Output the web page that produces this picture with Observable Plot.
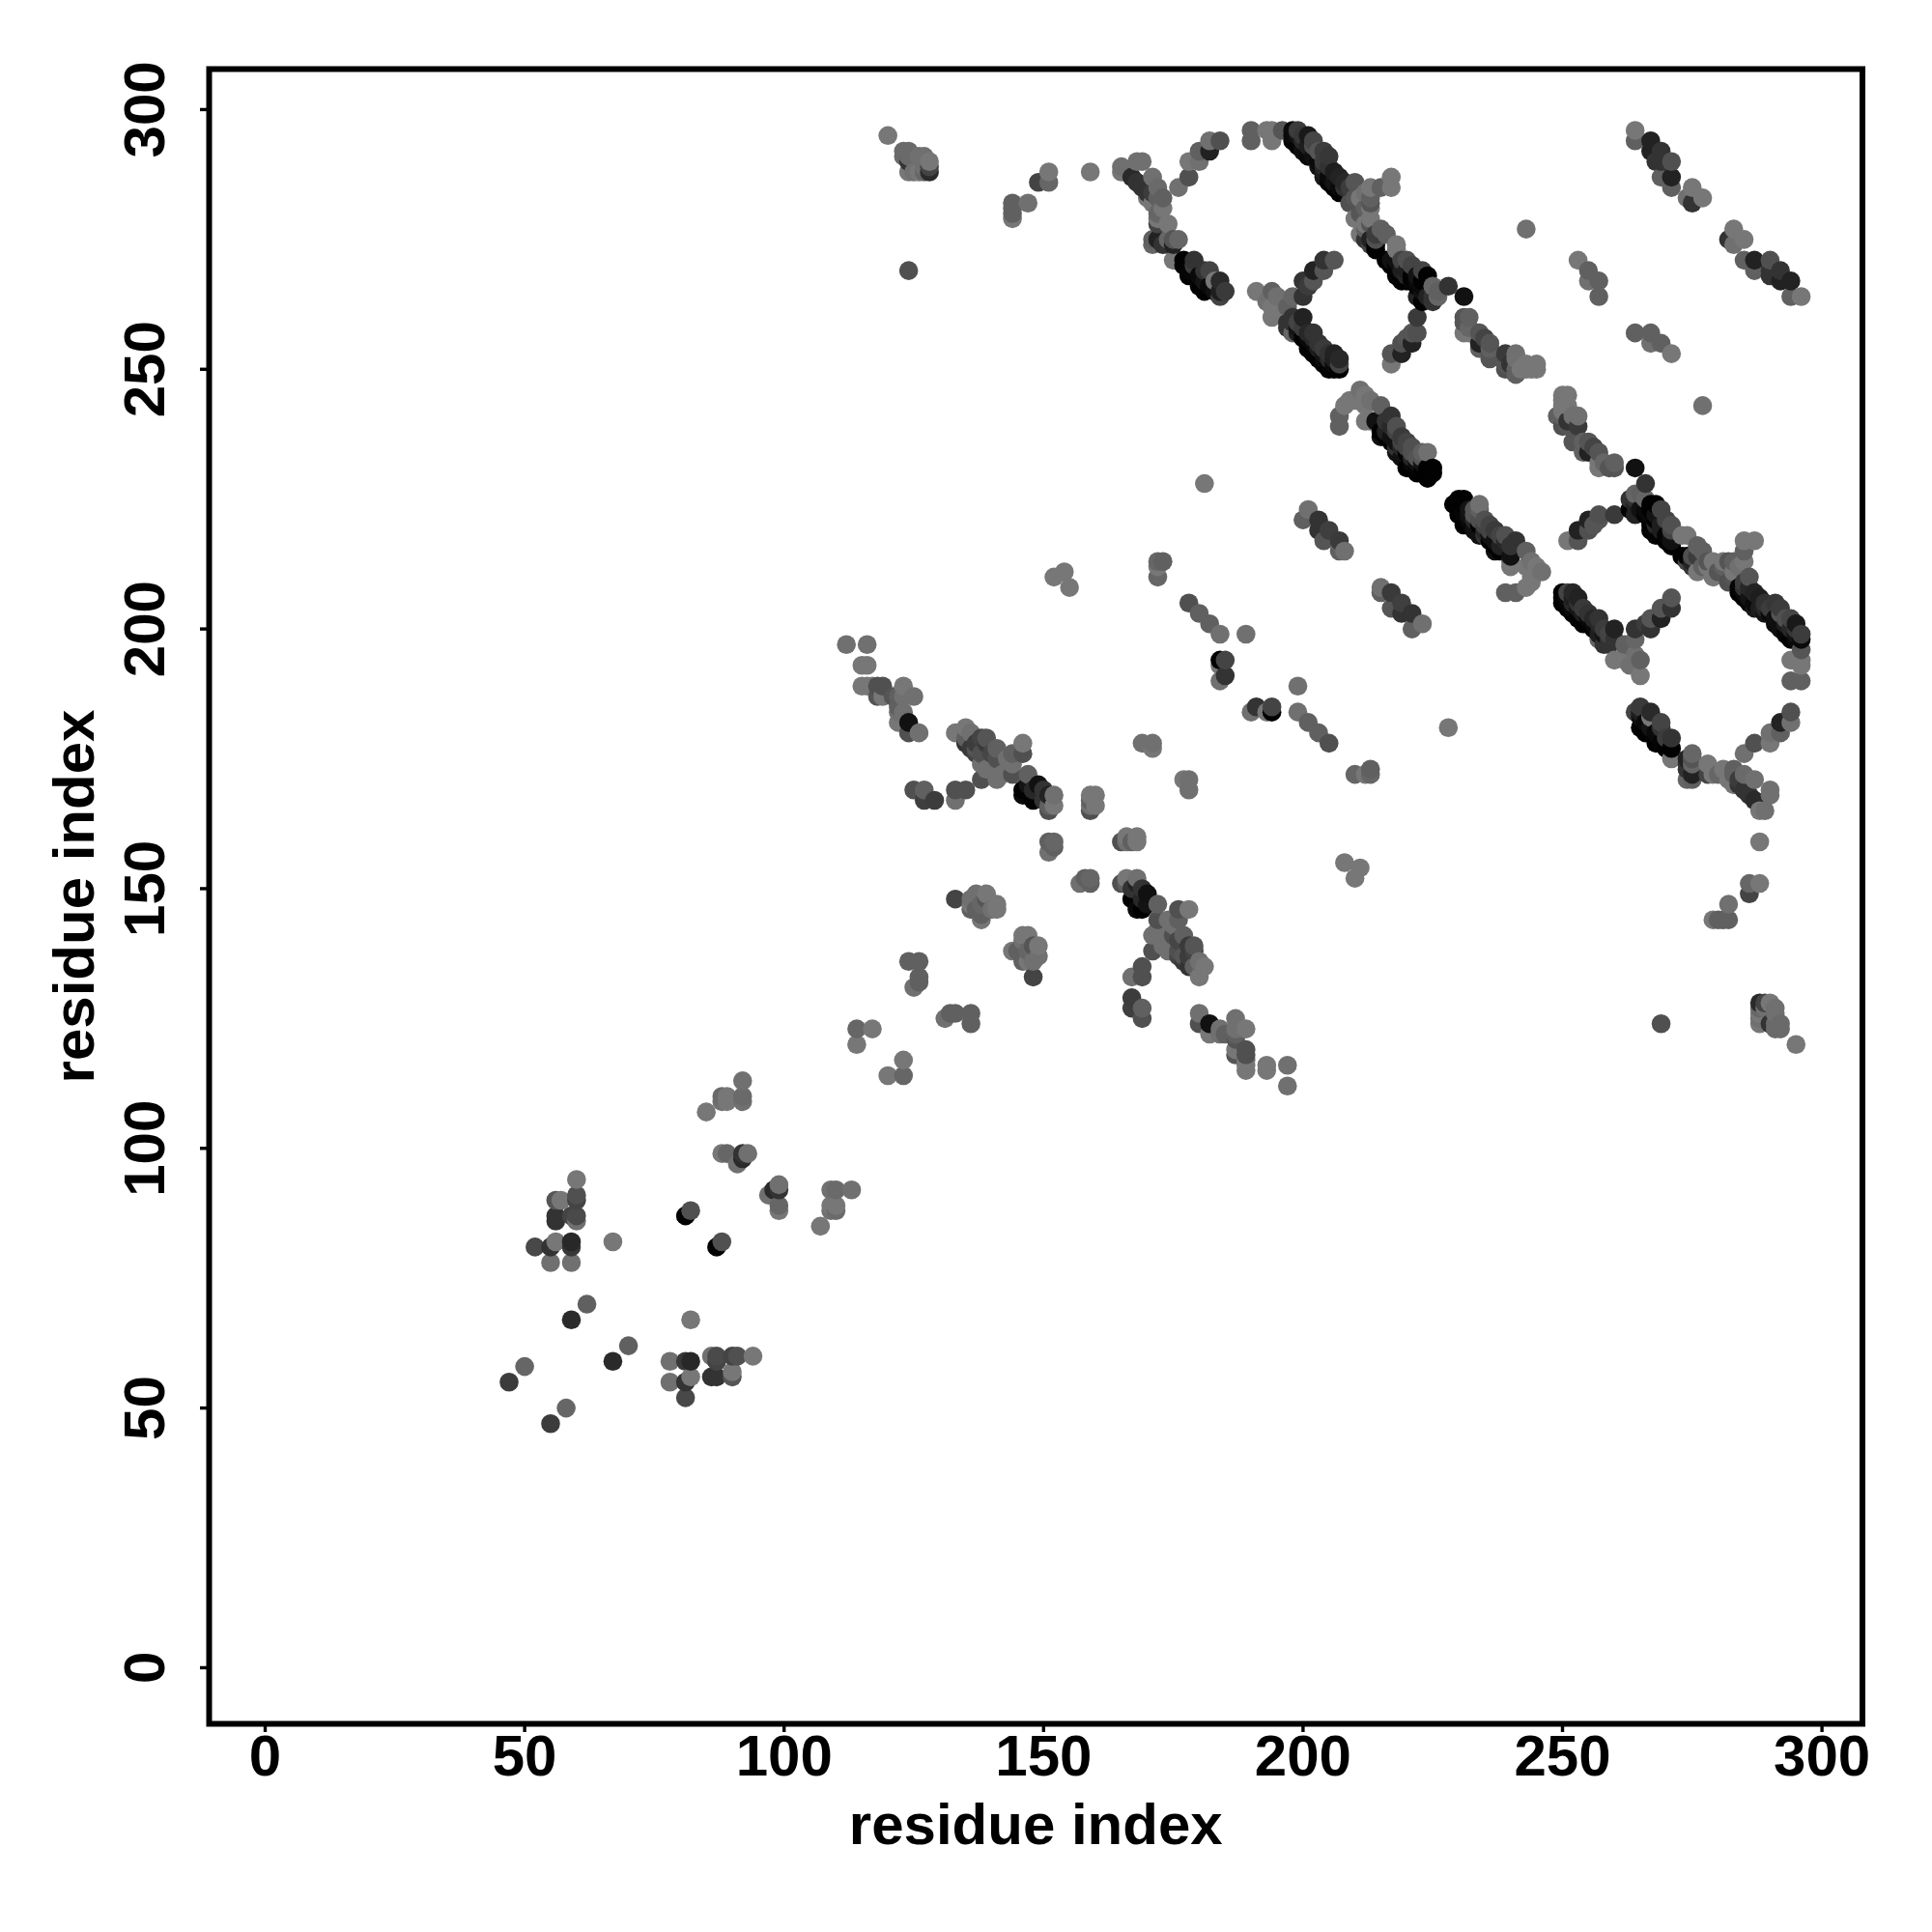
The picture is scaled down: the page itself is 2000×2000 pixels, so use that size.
<!DOCTYPE html>
<html>
<head>
<meta charset="utf-8">
<script src="https://cdn.jsdelivr.net/npm/d3@7"></script>
<script src="https://cdn.jsdelivr.net/npm/@observablehq/plot@0.6"></script>
<style>html,body{margin:0;padding:0;background:#fff}svg{display:block}</style>
</head>
<body>
<div id="chart"></div>
<script>
// Each contact: [residue i, residue j, grey level]. The map is symmetric, so one triangle is listed.
const tickValues = [0, 50, 100, 150, 200, 250, 300];
const axisTitle = "residue index";
const lowContacts = [[47,55,60],[50,58,102],[52,81,72],[55,81,51],[55,78,112],[56,82,119],[59,82,40],[59,81,56],[59,78,112],[56,87,51],[56,86,51],[56,90,85],[57,90,119],[59,87,68],[60,94,119],[60,91,80],[60,90,68],[60,87,74],[60,86,112],[59,67,42],[62,70,96],[67,82,119],[81,87,2],[82,88,80],[92,113,112],[88,110,106],[89,110,119],[88,109,112],[89,109,119],[92,110,106],[92,109,112],[85,107,119],[88,99,119],[89,99,102],[92,99,51],[93,99,112],[92,98,42],[91,97,112]];
const clusterB = [[112,197,112],[116,197,112],[115,193,119],[116,193,119],[115,189,119],[116,189,119],[117,189,119],[118,189,80],[119,189,80],[118,187,85],[119,187,119],[123,189,119],[121,187,85],[122,187,96],[123,187,112],[125,187,112],[123,184,112],[122,185,96],[122,184,112],[122,182,119],[124,182,17],[124,180,80],[126,180,112],[114,120,119],[114,123,102],[117,123,119],[124,136,96],[126,136,96],[126,133,96],[126,132,96],[125,131,112]];
const clusterC = [[133,180,119],[135,181,119],[136,180,112],[138,179,68],[135,179,96],[135,178,51],[136,177,58],[137,178,60],[137,177,85],[137,176,68],[138,176,80],[139,179,85],[139,178,58],[141,177,96],[141,175,80],[146,178,119],[146,176,80],[138,174,112],[144,174,112],[141,171,112],[138,171,80],[135,169,80],[133,169,80],[133,167,112],[129,167,60],[127,167,63],[127,169,96],[125,169,80],[139,173,112],[142,172,112],[144,172,80],[147,172,96],[146,169,2],[146,168,10],[147,170,20],[149,170,17],[148,167,2],[148,169,40],[150,169,51],[151,168,34],[150,167,51],[152,168,112],[152,166,119],[151,165,80],[151,166,96],[144,176,96],[143,175,112],[140,176,70],[141,174,112]];
const clusterMid = [[159,168,119],[160,168,119],[159,166,112],[160,166,119],[159,165,80],[159,167,96],[151,159,96],[152,159,102],[151,157,112],[152,158,96],[133,148,68],[136,148,112],[137,149,112],[139,149,119],[136,146,96],[137,146,96],[138,144,119],[138,145,96],[139,148,85],[140,146,112],[141,147,119],[141,146,119],[136,147,119],[138,147,102],[169,178,112],[171,178,112],[171,177,119],[178,205,80],[180,203,96],[182,201,96],[184,199,112],[189,199,112],[184,194,2],[185,194,68],[184,190,112],[185,191,51],[184,193,119],[181,228,119],[155,208,119],[154,211,119],[152,210,119],[172,213,102],[173,213,96],[172,212,119],[172,210,102]];
const clusterTop = [[120,295,119],[123,292,106],[124,292,106],[123,291,106],[124,291,106],[124,290,51],[124,288,119],[125,288,112],[126,288,119],[126,291,112],[127,291,112],[127,289,112],[127,288,102],[128,290,119],[128,289,68],[128,288,42],[124,269,80],[144,282,96],[144,281,96],[144,280,96],[144,279,119],[147,282,112],[149,286,68],[151,286,102],[151,288,119],[159,288,119],[176,285,112],[178,287,80],[178,290,119],[180,290,112],[180,292,96],[182,292,34],[182,294,112],[184,294,80],[190,296,96],[190,294,96],[193,296,119],[194,296,119],[194,294,119],[196,296,85]];
const bandEntry = [[165,289,112],[165,288,119],[168,290,112],[169,290,112],[167,287,42],[168,286,51],[169,285,51],[170,284,51],[171,287,112],[172,285,106],[173,283,96],[170,283,119],[171,282,119],[171,284,60],[172,283,96],[173,281,119],[172,280,102],[172,279,119],[172,278,68],[174,278,119],[171,275,96],[171,274,102],[172,275,34],[173,274,51],[174,275,102],[174,274,51],[175,275,85],[176,275,102],[175,274,34]];
const bandSecond = [[175,271,119],[177,271,2],[177,270,2],[178,269,5],[179,271,51],[179,270,60],[178,268,2],[180,268,10],[181,269,51],[182,269,68],[180,266,2],[181,267,20],[183,267,119],[182,266,10],[184,267,42],[183,265,17],[185,265,58],[184,264,68],[184,265,30],[181,265,2]];
const bandA = [[198,296,10],[199,296,60],[198,295,10],[199,295,20],[200,295,55],[198,294,2],[199,293,5],[200,294,40],[201,295,25],[200,292,15],[201,293,30],[202,293,80],[202,294,70],[203,292,85],[204,292,60],[201,291,10],[202,291,15],[203,290,10],[204,290,60],[205,291,55],[203,289,20],[204,289,40],[205,289,50],[204,288,30],[205,287,10],[204,287,25],[206,288,30],[205,286,5],[206,286,20],[206,285,2],[207,285,10],[207,287,35],[207,284,2],[208,284,5],[208,285,50],[208,286,40],[209,285,60],[209,282,80]];
const junction = [[210,286,85],[217,287,119],[217,285,119],[215,285,96],[213,285,119],[213,283,96],[211,283,119],[210,283,85],[213,281,119],[210,279,119],[212,278,119],[213,278,85],[212,275,51],[211,276,119],[213,275,34],[215,277,96],[216,276,85],[214,274,2],[218,274,119],[214,276,60],[211,280,85],[212,281,96],[212,284,112]];
const bandB = [[216,271,2],[217,271,17],[217,270,2],[218,271,17],[218,270,5],[218,268,5],[219,271,68],[219,269,30],[220,269,30],[221,270,68],[219,267,2],[220,268,40],[221,268,2],[222,268,20],[221,267,5],[222,267,10],[223,267,2],[224,268,2],[222,266,5],[223,266,10],[224,264,34],[225,264,50],[225,266,102],[226,265,96],[228,266,51],[231,264,17],[222,264,34],[225,263,51],[226,264,102],[223,263,2],[224,267,2],[223,265,17],[223,269,68],[220,271,80],[220,267,2],[218,269,2],[218,273,119],[214,273,2],[216,276,96],[214,275,80],[213,274,68],[213,279,119],[212,277,96],[213,282,85]];
const crossover = [[191,265,119],[194,265,96],[195,264,112],[194,262,119],[194,260,119],[195,262,119],[193,263,112],[198,264,102],[197,262,96],[200,264,51],[200,267,51],[202,267,85],[202,269,34],[204,269,85],[204,271,51],[206,271,85],[201,266,60]];
const bandC = [[197,259,51],[197,258,51],[198,260,51],[198,259,51],[198,257,102],[199,259,68],[199,258,20],[200,260,34],[199,257,30],[200,256,2],[200,258,60],[201,257,40],[201,256,10],[201,255,2],[202,257,51],[202,256,40],[202,255,10],[203,255,51],[203,254,30],[201,254,2],[202,253,2],[204,254,58],[204,253,20],[203,252,2],[204,252,10],[204,251,2],[205,253,50],[205,252,40],[205,251,5],[206,253,34],[206,252,30],[205,250,2],[206,250,2],[206,251,10],[207,252,40],[207,251,68],[207,250,2]];
const bandD = [[207,239,96],[207,241,96],[208,243,119],[209,244,119],[210,244,119],[211,246,112],[212,245,119],[212,243,119],[212,240,119],[215,243,96],[217,241,51],[214,240,17],[215,238,2],[215,237,17],[216,237,2],[217,236,2],[216,240,51],[216,238,34],[217,239,40],[217,237,17],[218,238,68],[218,239,80],[218,236,17],[219,237,58],[219,236,68],[218,235,51],[219,235,40],[220,236,68],[220,234,2],[221,235,80],[221,234,80],[222,233,85],[223,233,85],[223,234,96],[219,233,17],[220,231,2],[221,232,10],[222,231,5],[222,230,2],[223,230,2],[223,232,20],[224,230,2],[225,230,2],[225,231,2],[224,231,2],[221,233,40],[224,229,2],[224,234,112],[222,232,17],[220,235,68],[218,234,17],[213,244,112],[213,240,119]];
const bandE = [[231,260,85],[232,260,96],[231,259,85],[231,257,119],[232,258,102],[232,257,119],[234,257,85],[234,255,34],[236,255,85],[236,253,85],[235,256,68],[239,253,58],[241,253,112],[239,251,85],[240,251,51],[241,250,96],[243,251,119],[245,251,119],[244,250,119],[242,250,119],[245,250,119],[241,249,96],[239,250,80],[241,252,112],[236,252,85],[236,254,96],[234,254,96],[243,250,119]];
const strandSmall = [[222,260,58],[221,257,85],[222,257,80],[219,255,80],[221,255,34],[219,253,34],[217,253,85],[217,251,119],[220,256,85],[243,277,112],[253,271,119],[255,269,96],[255,267,112],[257,267,96],[257,264,96],[201,223,112],[200,221,96],[203,221,51],[203,219,51],[205,219,63],[204,217,85],[207,217,58],[208,215,112],[207,215,96]];
const bandRight = [[264,296,119],[264,294,96],[267,294,34],[267,292,34],[269,292,51],[268,290,51],[269,290,51],[271,290,80],[269,287,96],[271,287,34],[271,285,96],[275,285,119],[274,283,112],[275,282,51],[277,283,119]];

const contacts = [lowContacts, clusterB, clusterC, clusterMid, clusterTop, bandEntry, bandSecond, bandA, junction, bandB, crossover, bandC, bandD, bandE, strandSmall, bandRight].flat();
const table = contacts.flatMap(([i, j, g]) => [{x: i, y: j, g}, {x: j, y: i, g}]);
table.sort((a, b) => a.x - b.x || a.y - b.y);

const chart = Plot.plot({
  width: 2000, height: 2000,
  marginLeft: 216, marginRight: 72.5, marginTop: 71, marginBottom: 216,
  x: {domain: [-10.8, 307.8]},
  y: {domain: [-10.8, 307.8]},
  style: {fontFamily: "'Liberation Sans', Arial, sans-serif", background: "#fff", color: "#000"},
  marks: [
    Plot.dot(table, {x: "x", y: "y", r: 9.8, fill: d => `rgb(${d.g},${d.g},${d.g})`, stroke: "none"}),
    Plot.axisX({ticks: tickValues, tickSize: 9, tickPadding: 2, strokeWidth: 3.4, fontSize: 60, fontWeight: "bold", label: null, tickFormat: d => String(d)}),
    Plot.axisY({ticks: tickValues, tickSize: 9, tickPadding: 38, strokeWidth: 3.4, fontSize: 60, fontWeight: "bold", label: null, tickRotate: -90, tickFormat: d => String(d)}),
    Plot.frame({stroke: "#000", strokeWidth: 6}),
    Plot.text([axisTitle], {frameAnchor: "bottom", dy: 124, lineAnchor: "bottom", fontSize: 60, fontWeight: "bold", fill: "#000"}),
    Plot.text([axisTitle], {frameAnchor: "left", dx: -120, rotate: -90, textAnchor: "middle", lineAnchor: "bottom", fontSize: 60, fontWeight: "bold", fill: "#000"})
  ]
});
document.getElementById("chart").appendChild(chart);
</script>
</body>
</html>
